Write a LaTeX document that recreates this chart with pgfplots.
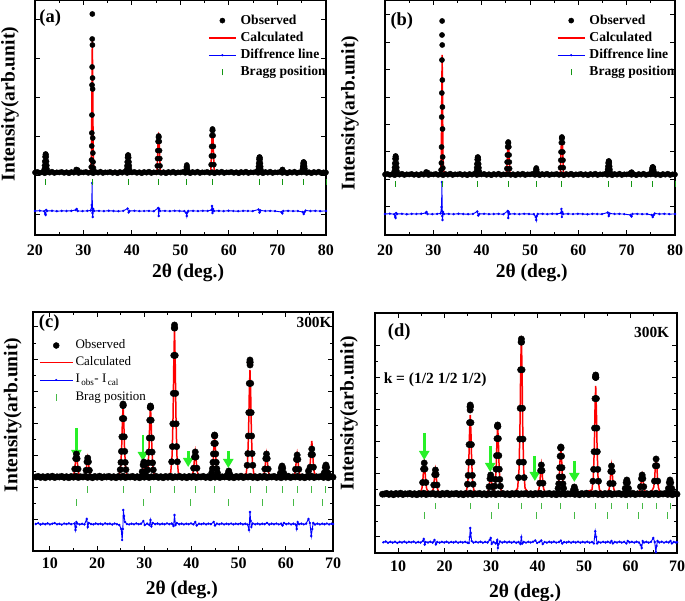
\documentclass[border=0pt]{standalone}
\usepackage{fontspec}
\setmainfont{Liberation Serif}
\usepackage{pgfplots}
\pgfplotsset{compat=1.18}
\usetikzlibrary{arrows.meta}
\definecolor{bragga}{RGB}{20,150,20}
\definecolor{braggc}{RGB}{70,185,70}
\definecolor{arrowg}{RGB}{40,240,40}
\tikzset{arr/.style={arrowg, line width=2.8pt, -{Triangle[width=10pt,length=9pt]}}}
\pgfplotsset{
  xrd/.style={
    scale only axis,
    axis line style={line width=1.2pt},
    tick style={black, line width=1pt},
    major tick length=5pt, minor tick length=3pt,
    tick align=inside,
    ymin=0,
    yticklabels={},
    minor x tick num=1,
    /pgf/number format/assume math mode=true,
    xticklabel style={font=\bfseries\fontsize{16}{16}\selectfont, anchor=center},
    label style={font=\bfseries\fontsize{19.5}{24}\selectfont},
    xlabel={2θ (deg.)},
    ylabel={Intensity(arb.unit)},
  },
  obs/.style={only marks, mark=*, mark size=2.6pt, black, forget plot},
  calc/.style={red, line width=1.5pt, no marks, forget plot},
  dif/.style={blue, line width=0.9pt, mark=*, mark size=0.7pt, forget plot},
  brg/.style={only marks, mark=|, mark size=3pt, mark options={line width=0.9pt}, forget plot},
  legA/.style={at={(#1,0.94)}, anchor=north west, draw=none, fill=none,
    inner sep=0pt, outer sep=0pt,
    font=\bfseries\fontsize{13.6}{14}\selectfont, row sep=4.3pt,
    nodes={inner sep=0pt, text height=10pt, text depth=3pt},
    /tikz/every odd column/.append style={column sep=4pt}},
}
\begin{document}
\begin{tikzpicture}
\useasboundingbox (0,0) rectangle (685pt,601pt);

% ---------------- (a)
\begin{axis}[xrd, at={(35pt,366pt)}, anchor=south west, width=291pt, height=235pt,
  xmin=20, xmax=80, ymax=235, xtick={20,30,...,80},
  ytick={20.5,59.5,98.5,137.5,176.5,215.5},
  xticklabel style={yshift=-15pt},
  xlabel style={at={(rel axis cs:0.526,-0.162)}, anchor=center},
  ylabel style={at={(rel axis cs:-0.086,0.557)}, anchor=center},
  legend style={legA=0.595}, legend cell align=left]
\addlegendimage{legend image code/.code={\path[draw=none,fill=none] (0pt,0pt) -- (27pt,0pt); \fill[black] (13.5pt,0pt) circle (2.6pt);}}
\addlegendentry{Observed}
\addlegendimage{legend image code/.code={\draw[red, line width=1.5pt] (0pt,0pt) -- (27pt,0pt);}}
\addlegendentry{Calculated}
\addlegendimage{legend image code/.code={\draw[blue, line width=0.8pt] (0pt,0pt) -- (27pt,0pt); \fill[blue] (13.5pt,0pt) circle (0.9pt);}}
\addlegendentry{Diffrence line}
\addlegendimage{legend image code/.code={\path[draw=none,fill=none] (0pt,0pt) -- (27pt,0pt); \draw[bragga, line width=0.9pt] (13.5pt,-3pt) -- (13.5pt,3pt);}}
\addlegendentry{Bragg position}
% observed
\addplot[obs] coordinates {
(20,62.5)(20.5,63.1)(21,62.1)(21.5,62.8)(22,61.8)(22.5,63.0)(23,62.3)(23.5,63.3)(24,62.0)(24.5,62.7)
(25,62.5)(25.5,63.1)(26,62.1)(26.5,62.8)(27,61.8)(27.5,63.0)(28,62.3)(28.5,63.3)(29,62.0)(29.5,62.7)
(30,62.5)(30.5,63.1)(31,62.1)(31.5,62.8)(32,61.8)(32.5,63.0)(33,62.3)(33.5,63.3)(34,62.0)(34.5,62.7)
(35,62.5)(35.5,63.1)(36,62.1)(36.5,62.8)(37,61.8)(37.5,63.0)(38,62.3)(38.5,63.3)(39,62.0)(39.5,62.7)
(40,62.5)(40.5,63.1)(41,62.1)(41.5,62.8)(42,61.8)(42.5,63.0)(43,62.3)(43.5,63.3)(44,62.0)(44.5,62.7)
(45,62.5)(45.5,63.1)(46,62.1)(46.5,62.8)(47,61.8)(47.5,63.0)(48,62.3)(48.5,63.3)(49,62.0)(49.5,62.7)
(50,62.5)(50.5,63.1)(51,62.1)(51.5,62.8)(52,61.8)(52.5,63.0)(53,62.3)(53.5,63.3)(54,62.0)(54.5,62.7)
(55,62.5)(55.5,63.1)(56,62.1)(56.5,62.8)(57,61.8)(57.5,63.0)(58,62.3)(58.5,63.3)(59,62.0)(59.5,62.7)
(60,62.5)(60.5,63.1)(61,62.1)(61.5,62.8)(62,61.8)(62.5,63.0)(63,62.3)(63.5,63.3)(64,62.0)(64.5,62.7)
(65,62.5)(65.5,63.1)(66,62.1)(66.5,62.8)(67,61.8)(67.5,63.0)(68,62.3)(68.5,63.3)(69,62.0)(69.5,62.7)
(70,62.5)(70.5,63.1)(71,62.1)(71.5,62.8)(72,61.8)(72.5,63.0)(73,62.3)(73.5,63.3)(74,62.0)(74.5,62.7)
(75,62.5)(75.5,63.1)(76,62.1)(76.5,62.8)(77,61.8)(77.5,63.0)(78,62.3)(78.5,63.3)(79,62.0)(79.5,62.7)(80,62.5)
(21.92,65.8)(21.97,69.5)(22.02,73.6)(22.08,78.2)(22.15,80.4)(22.2,81)(22.25,80.4)(22.32,78.2)(22.38,73.6)(22.43,69.5)(22.48,65.8)
(28.5,65.5)(28.8,65)
(31.6,68)(31.65,75)(31.7,89)(31.72,102)(31.74,120)(31.76,150)(31.78,168)(31.8,196)(31.82,221)(31.84,190)(31.86,157)(31.88,146)(31.9,97)(31.93,82)(31.97,73)(32.05,67)
(38.92,65.7)(38.97,69.2)(39.02,73)(39.08,77.4)(39.15,79.5)(39.2,80)(39.25,79.5)(39.32,77.4)(39.38,73)(39.43,69.2)(39.48,65.7)
(45.22,69.1)(45.27,76.4)(45.32,84.4)(45.38,93.5)(45.45,97.9)(45.5,99)(45.55,97.9)(45.62,93.5)(45.68,84.4)(45.73,76.4)(45.78,69.1)
(51.15,65)(51.22,68)(51.3,70)(51.38,68)(51.45,65)
(56.32,70.3)(56.37,79)(56.42,88.6)(56.48,99.5)(56.55,104.7)(56.6,106)(56.65,104.7)(56.72,99.5)(56.78,88.6)(56.83,79)(56.88,70.3)
(66.02,65.3)(66.07,68.4)(66.12,71.8)(66.18,75.7)(66.25,77.5)(66.3,78)(66.35,77.5)(66.42,75.7)(66.48,71.8)(66.53,68.4)(66.58,65.3)
(70.95,65)(71.05,65.5)
(75.12,64.4)(75.17,66.5)(75.22,68.8)(75.28,71.4)(75.35,72.7)(75.4,73)(75.45,72.7)(75.52,71.4)(75.58,68.8)(75.63,66.5)(75.68,64.4)
};
% calculated
\addplot[calc] coordinates {
(20,63.5)(21.85,63.5)(21.98,70.5)(22.08,78.4)(22.15,80.7)(22.2,81)(22.25,80.7)(22.32,78.4)(22.42,70.5)(22.55,63.5)
(28,63.5)(28.3,65)(28.6,65.5)(28.9,64.5)(29.2,63.5)
(31.3,63.5)(31.5,66)(31.65,80)(31.75,150)(31.82,196)(31.9,150)(32.0,80)(32.15,66)(32.4,64)
(38.85,63.5)(38.98,70.1)(39.08,77.5)(39.15,79.7)(39.2,80)(39.25,79.7)(39.32,77.5)(39.42,70.1)(39.55,63.5)
(45.15,63.5)(45.28,78.5)(45.38,95.4)(45.45,100.3)(45.5,101)(45.55,100.3)(45.62,95.4)(45.72,78.5)(45.85,63.5)
(50.95,63.5)(51.08,66.5)(51.18,69.9)(51.25,70.9)(51.3,71)(51.35,70.9)(51.42,69.9)(51.52,66.5)(51.65,63.5)
(56.25,63.5)(56.38,80.1)(56.48,98.8)(56.55,104.2)(56.6,105)(56.65,104.2)(56.72,98.8)(56.82,80.1)(56.95,63.5)
(65.95,63.5)(66.08,69.3)(66.18,75.8)(66.25,77.7)(66.3,78)(66.35,77.7)(66.42,75.8)(66.52,69.3)(66.65,63.5)
(70.7,63.5)(70.85,64.5)(71,66)(71.15,64.5)(71.3,63.5)
(75.05,63.5)(75.18,67.3)(75.28,71.6)(75.35,72.8)(75.4,73)(75.45,72.8)(75.52,71.6)(75.62,67.3)(75.75,63.5)(80,63.5)
};
% difference
\addplot[dif] coordinates {
(20,24)(21,24.3)(21.9,23.8)(22.1,21)(22.2,20)(22.3,25)(22.5,24)(23.5,24.2)(24.5,23.8)(25.5,24.1)(26.5,24)(27.5,24.2)(28.4,25)(28.6,26)(28.8,24)(29.8,23.9)(30.8,24.1)(31.5,24.5)(31.7,30)(31.78,52)(31.84,22)(31.9,18)(32.0,26)(32.2,24)(33.2,24.1)(34.2,23.9)(35.2,24.2)(36.2,24)(37.2,23.8)(38.2,24.1)(39.1,26.5)(39.3,22.5)(39.5,24)(40.5,24.2)(41.5,23.9)(42.5,24)(43.5,24.1)(44.5,23.8)(45.4,27)(45.5,19)(45.6,26)(45.8,24)(46.8,24.1)(47.8,23.9)(48.8,24.2)(49.8,24)(50.8,23.8)(51.2,22)(51.3,19)(51.4,22.5)(51.6,24)(52.6,24.1)(53.6,23.9)(54.6,24.2)(55.6,24)(56.4,25)(56.5,29)(56.6,22)(56.7,26)(56.9,24)(57.9,24.1)(58.9,23.9)(59.9,24.2)(60.9,24)(61.9,23.8)(62.9,24.1)(63.9,24)(64.9,23.9)(66.1,25.5)(66.3,22.5)(66.5,24.5)(67.5,24)(68.5,24.1)(69.5,23.9)(70.8,23)(71.0,21.5)(71.2,24)(72.2,24.1)(73.2,23.9)(74.2,24)(75.2,23)(75.4,21)(75.6,23)(75.8,24.5)(76.8,24)(77.8,24.1)(78.8,23.9)(80,24)
};
% Bragg positions
\addplot[brg, bragga] coordinates {(22.2,53)(31.8,53)(39.2,53)(45.5,53)(51.3,53)(56.6,53)(66.3,53)(71.0,53)(75.4,53)(80,53)};
\node[font=\bfseries\fontsize{18.5}{20}\selectfont] at (rel axis cs:0.052,0.923) {(a)};
\end{axis}

% ---------------- (b)
\begin{axis}[xrd, at={(385pt,366pt)}, anchor=south west, width=290pt, height=235pt,
  xmin=20, xmax=80, ymax=235, xtick={20,30,...,80},
  ytick={28.3,55.7,83.1,110.5,137.9,165.3,192.7,220.1},
  xticklabel style={yshift=-15pt},
  xlabel style={at={(rel axis cs:0.506,-0.163)}, anchor=center},
  ylabel style={at={(rel axis cs:-0.121,0.519)}, anchor=center},
  legend style={legA=0.593}, legend cell align=left]
\addlegendimage{legend image code/.code={\path[draw=none,fill=none] (0pt,0pt) -- (27pt,0pt); \fill[black] (13.5pt,0pt) circle (2.6pt);}}
\addlegendentry{Observed}
\addlegendimage{legend image code/.code={\draw[red, line width=1.5pt] (0pt,0pt) -- (27pt,0pt);}}
\addlegendentry{Calculated}
\addlegendimage{legend image code/.code={\draw[blue, line width=0.8pt] (0pt,0pt) -- (27pt,0pt); \fill[blue] (13.5pt,0pt) circle (0.9pt);}}
\addlegendentry{Diffrence line}
\addlegendimage{legend image code/.code={\path[draw=none,fill=none] (0pt,0pt) -- (27pt,0pt); \draw[bragga, line width=0.9pt] (13.5pt,-3pt) -- (13.5pt,3pt);}}
\addlegendentry{Bragg position}
\addplot[obs] coordinates {
(20,60.5)(20.5,61.1)(21,60.1)(21.5,60.8)(22,59.8)(22.5,61.0)(23,60.3)(23.5,61.3)(24,60.0)(24.5,60.7)
(25,60.5)(25.5,61.1)(26,60.1)(26.5,60.8)(27,59.8)(27.5,61.0)(28,60.3)(28.5,61.3)(29,60.0)(29.5,60.7)
(30,60.5)(30.5,61.1)(31,60.1)(31.5,60.8)(32,59.8)(32.5,61.0)(33,60.3)(33.5,61.3)(34,60.0)(34.5,60.7)
(35,60.5)(35.5,61.1)(36,60.1)(36.5,60.8)(37,59.8)(37.5,61.0)(38,60.3)(38.5,61.3)(39,60.0)(39.5,60.7)
(40,60.5)(40.5,61.1)(41,60.1)(41.5,60.8)(42,59.8)(42.5,61.0)(43,60.3)(43.5,61.3)(44,60.0)(44.5,60.7)
(45,60.5)(45.5,61.1)(46,60.1)(46.5,60.8)(47,59.8)(47.5,61.0)(48,60.3)(48.5,61.3)(49,60.0)(49.5,60.7)
(50,60.5)(50.5,61.1)(51,60.1)(51.5,60.8)(52,59.8)(52.5,61.0)(53,60.3)(53.5,61.3)(54,60.0)(54.5,60.7)
(55,60.5)(55.5,61.1)(56,60.1)(56.5,60.8)(57,59.8)(57.5,61.0)(58,60.3)(58.5,61.3)(59,60.0)(59.5,60.7)
(60,60.5)(60.5,61.1)(61,60.1)(61.5,60.8)(62,59.8)(62.5,61.0)(63,60.3)(63.5,61.3)(64,60.0)(64.5,60.7)
(65,60.5)(65.5,61.1)(66,60.1)(66.5,60.8)(67,59.8)(67.5,61.0)(68,60.3)(68.5,61.3)(69,60.0)(69.5,60.7)
(70,60.5)(70.5,61.1)(71,60.1)(71.5,60.8)(72,59.8)(72.5,61.0)(73,60.3)(73.5,61.3)(74,60.0)(74.5,60.7)
(75,60.5)(75.5,61.1)(76,60.1)(76.5,60.8)(77,59.8)(77.5,61.0)(78,60.3)(78.5,61.3)(79,60.0)(79.5,60.7)(80,60.5)
(21.92,63.8)(21.97,67.5)(22.02,71.6)(22.08,76.2)(22.15,78.4)(22.2,79)(22.25,78.4)(22.32,76.2)(22.38,71.6)(22.43,67.5)(22.48,63.8)
(28.5,63)(28.8,62.5)
(31.6,65)(31.66,72)(31.7,88)(31.73,118)(31.76,142)(31.78,175)(31.8,200)(31.82,214)(31.84,190)(31.86,155)(31.88,128)(31.9,106)(31.93,78)(31.97,67)
(38.92,63.7)(38.97,67.2)(39.02,71)(39.08,75.4)(39.15,77.5)(39.2,78)(39.25,77.5)(39.32,75.4)(39.38,71)(39.43,67.2)(39.48,63.7)
(45.22,66.4)(45.27,72.9)(45.32,80)(45.38,88.1)(45.45,92)(45.5,93)(45.55,92)(45.62,88.1)(45.68,80)(45.73,72.9)(45.78,66.4)
(51.15,63)(51.22,65.5)(51.3,67)(51.38,65.5)(51.45,63)
(56.32,67.3)(56.37,74.8)(56.42,83)(56.48,92.4)(56.55,96.9)(56.6,98)(56.65,96.9)(56.72,92.4)(56.78,83)(56.83,74.8)(56.88,67.3)
(66.02,62.9)(66.07,65.6)(66.12,68.6)(66.18,72)(66.25,73.6)(66.3,74)(66.35,73.6)(66.42,72)(66.48,68.6)(66.53,65.6)(66.58,62.9)
(70.95,62.5)(71.05,62.8)
(75.12,61.9)(75.17,63.4)(75.22,65)(75.28,66.9)(75.35,67.8)(75.4,68)(75.45,67.8)(75.52,66.9)(75.58,65)(75.63,63.4)(75.68,61.9)
};
\addplot[calc] coordinates {
(20,61)(21.85,61)(21.98,67.8)(22.08,75.5)(22.15,77.7)(22.2,78)(22.25,77.7)(22.32,75.5)(22.42,67.8)(22.55,61)
(28,61)(28.3,62.5)(28.6,63)(28.9,62)(29.2,61)
(31.3,61)(31.5,64)(31.65,78)(31.75,140)(31.82,180)(31.9,140)(32.0,78)(32.15,64)(32.4,61.5)
(38.85,61)(38.98,67.8)(39.08,75.5)(39.15,77.7)(39.2,78)(39.25,77.7)(39.32,75.5)(39.42,67.8)(39.55,61)
(45.15,61)(45.28,73.4)(45.38,87.4)(45.45,91.4)(45.5,92)(45.55,91.4)(45.62,87.4)(45.72,73.4)(45.85,61)
(50.95,61)(51.08,63.4)(51.18,66.1)(51.25,66.9)(51.3,67)(51.35,66.9)(51.42,66.1)(51.52,63.4)(51.65,61)
(56.25,61)(56.38,75.4)(56.48,91.6)(56.55,96.3)(56.6,97)(56.65,96.3)(56.72,91.6)(56.82,75.4)(56.95,61)
(65.95,61)(66.08,66.2)(66.18,72.1)(66.25,73.7)(66.3,74)(66.35,73.7)(66.42,72.1)(66.52,66.2)(66.65,61)
(70.7,61)(70.85,62)(71,63)(71.15,62)(71.3,61)
(75.05,61)(75.18,63.8)(75.28,67)(75.35,67.9)(75.4,68)(75.45,67.9)(75.52,67)(75.62,63.8)(75.75,61)(80,61)
};
\addplot[dif] coordinates {
(20,21)(21,21.3)(21.9,20.8)(22.1,18)(22.2,17)(22.3,22)(22.5,21)(23.5,21.2)(24.5,20.8)(25.5,21.1)(26.5,21)(27.5,21.2)(28.4,22)(28.6,23)(28.8,21)(29.8,20.9)(30.8,21.1)(31.5,21.5)(31.7,28)(31.78,53)(31.84,19)(31.9,15)(32.0,23)(32.2,21)(33.2,21.1)(34.2,20.9)(35.2,21.2)(36.2,21)(37.2,20.8)(38.2,21.1)(39.1,23.5)(39.3,19.5)(39.5,21)(40.5,21.2)(41.5,20.9)(42.5,21)(43.5,21.1)(44.5,20.8)(45.4,24)(45.5,17)(45.6,23)(45.8,21)(46.8,21.1)(47.8,20.9)(48.8,21.2)(49.8,21)(50.8,20.8)(51.2,18)(51.3,15)(51.4,19)(51.6,21)(52.6,21.1)(53.6,20.9)(54.6,21.2)(55.6,21)(56.4,22)(56.5,26)(56.6,18)(56.7,23)(56.9,21)(57.9,21.1)(58.9,20.9)(59.9,21.2)(60.9,21)(61.9,20.8)(62.9,21.1)(63.9,21)(64.9,20.9)(66.1,22.5)(66.3,19)(66.5,21.5)(67.5,21)(68.5,21.1)(69.5,20.9)(70.8,20)(71.0,18.5)(71.2,21)(72.2,21.1)(73.2,20.9)(74.2,21)(75.2,20)(75.4,18)(75.6,20)(75.8,21.5)(76.8,21)(77.8,21.1)(78.8,20.9)(80,21)
};
\addplot[brg, bragga] coordinates {(22.2,50.5)(31.8,50.5)(39.2,50.5)(45.5,50.5)(51.3,50.5)(56.6,50.5)(66.3,50.5)(71.0,50.5)(75.4,50.5)(80,50.5)};
\node[font=\bfseries\fontsize{18.5}{20}\selectfont] at (rel axis cs:0.058,0.912) {(b)};
\end{axis}

% ---------------- (c)
\begin{axis}[xrd, at={(33pt,50pt)}, anchor=south west, width=300pt, height=239pt,
  xmin=6.4, xmax=70, ymax=239, xtick={10,20,...,70},
  ytick={31.7,63.75,95.8,127.85,159.9,191.95,224}, minor y tick num=1,
  xticklabel style={yshift=-12.3pt},
  xlabel style={at={(rel axis cs:0.496,-0.163)}, anchor=center},
  ylabel style={at={(rel axis cs:-0.068,0.569)}, anchor=center},
  legend style={at={(0.02,0.887)}, anchor=north west, draw=none, fill=none,
    inner sep=0pt, outer sep=0pt,
    font=\fontsize{13}{14}\selectfont, row sep=4.2pt,
    nodes={inner sep=0pt, text height=9.5pt, text depth=3.5pt},
    /tikz/every odd column/.append style={column sep=2pt}},
  legend cell align=left]
\addlegendimage{legend image code/.code={\path[draw=none,fill=none] (0pt,0pt) -- (33pt,0pt); \fill[black] (16.5pt,0pt) circle (3pt);}}
\addlegendentry{Observed}
\addlegendimage{legend image code/.code={\draw[red, line width=1.5pt] (0pt,0pt) -- (33pt,0pt);}}
\addlegendentry{Calculated}
\addlegendimage{legend image code/.code={\draw[blue, line width=0.7pt] (0pt,0pt) -- (33pt,0pt); \fill[blue] (16.5pt,0pt) circle (0.8pt);}}
\addlegendentry{I\textsubscript{\,obs}- I\textsubscript{\,cal}}
\addlegendimage{legend image code/.code={\path[draw=none,fill=none] (0pt,0pt) -- (33pt,0pt); \draw[braggc, line width=0.9pt] (16.5pt,-3.5pt) -- (16.5pt,3.5pt);}}
\addlegendentry{Brag position}
\addplot[obs, mark size=3.2pt] coordinates {
(7,74)(7.5,74.6)(8,73.6)(8.5,74.3)(9,73.3)(9.5,74.5)(10,73.8)(10.5,74.8)(11,73.5)(11.5,74.2)
(12,74)(12.5,74.6)(13,73.6)(13.5,74.3)(14,73.3)(14.5,74.5)(15,73.8)(15.5,74.8)(16,73.5)(16.5,74.2)
(17,74)(17.5,74.6)(18,73.6)(18.5,74.3)(19,73.3)(19.5,74.5)(20,73.8)(20.5,74.8)(21,73.5)(21.5,74.2)
(22,74)(22.5,74.6)(23,73.6)(23.5,74.3)(24,73.3)(24.5,74.5)(25,73.8)(25.5,74.8)(26,73.5)(26.5,74.2)
(27,74)(27.5,74.6)(28,73.6)(28.5,74.3)(29,73.3)(29.5,74.5)(30,73.8)(30.5,74.8)(31,73.5)(31.5,74.2)
(32,74)(32.5,74.6)(33,73.6)(33.5,74.3)(34,73.3)(34.5,74.5)(35,73.8)(35.5,74.8)(36,73.5)(36.5,74.2)
(37,74)(37.5,74.6)(38,73.6)(38.5,74.3)(39,73.3)(39.5,74.5)(40,73.8)(40.5,74.8)(41,73.5)(41.5,74.2)
(42,74)(42.5,74.6)(43,73.6)(43.5,74.3)(44,73.3)(44.5,74.5)(45,73.8)(45.5,74.8)(46,73.5)(46.5,74.2)
(47,74)(47.5,74.6)(48,73.6)(48.5,74.3)(49,73.3)(49.5,74.5)(50,73.8)(50.5,74.8)(51,73.5)(51.5,74.2)
(52,74)(52.5,74.6)(53,73.6)(53.5,74.3)(54,73.3)(54.5,74.5)(55,73.8)(55.5,74.8)(56,73.5)(56.5,74.2)
(57,74)(57.5,74.6)(58,73.6)(58.5,74.3)(59,73.3)(59.5,74.5)(60,73.8)(60.5,74.8)(61,73.5)(61.5,74.2)
(62,74)(62.5,74.6)(63,73.6)(63.5,74.3)(64,73.3)(64.5,74.5)(65,73.8)(65.5,74.8)(66,73.5)(66.5,74.2)
(67,74)(67.5,74.6)(68,73.6)(68.5,74.3)(69,73.3)(69.5,74.5)(70,73.8)
(15.25,82)(15.45,92.4)(15.6,97)(15.75,92.4)(15.95,82)
(17.65,80.7)(17.85,89.2)(18,93)(18.15,89.2)(18.35,80.7)
(24.9,81.3)(25.05,88.6)(25.15,99.6)(25.25,114.2)(25.35,132.4)(25.45,145.5)(25.5,147)(25.55,145.5)(25.65,132.4)(25.75,114.2)(25.85,99.6)(25.95,88.6)(26.1,81.3)
(29.55,79.3)(29.75,86)(29.9,89)(30.05,86)(30.25,79.3)
(30.7,81.1)(30.85,88.2)(30.95,98.9)(31.05,113)(31.15,130.8)(31.25,143.6)(31.3,145)(31.35,143.6)(31.45,130.8)(31.55,113)(31.65,98.9)(31.75,88.2)(31.9,81.1)
(35.8,89.2)(35.95,104.4)(36.05,127.2)(36.15,157.6)(36.25,195.6)(36.35,223)(36.4,226)(36.45,223)(36.55,195.6)(36.65,157.6)(36.75,127.2)(36.85,104.4)(37.0,89.2)
(40.45,82.8)(40.65,94)(40.8,99)(40.95,94)(41.15,82.8)
(44.3,78.2)(44.45,82.4)(44.55,88.7)(44.65,97.1)(44.75,107.6)(44.85,115.2)(44.9,116)(44.95,115.2)(45.05,107.6)(45.15,97.1)(45.25,88.7)(45.35,82.4)(45.5,78.2)
(47.7,77)(47.9,80)(48.1,77)
(51.8,85.7)(51.95,97.4)(52.05,115)(52.15,138.4)(52.25,167.6)(52.35,188.7)(52.4,191)(52.42,186)(52.45,188.7)(52.55,167.6)(52.65,138.4)(52.75,115)(52.85,97.4)(53.0,85.7)
(55.55,82)(55.75,92.4)(55.9,97)(56.05,92.4)(56.25,82)
(58.85,77.9)(59.05,82.8)(59.2,85)(59.35,82.8)(59.55,77.9)
(62.05,81.7)(62.25,91.6)(62.4,96)(62.55,91.6)(62.75,81.7)
(64.8,80)(65.15,83.8)(65.35,96.4)(65.5,102)(65.65,96.4)(65.85,83.8)
(68.15,78.2)(68.35,83.6)(68.5,86)(68.65,83.6)(68.85,78.2)
};
\addplot[calc] coordinates {
(7,73.5)(10,73.8)(14,74)(14.8,74.7)(15.1,77.5)(15.3,83.7)(15.45,91.9)(15.6,97)(15.75,91.9)(15.9,83.7)(16.1,77.5)(16.4,74.7)
(17.2,74.6)(17.5,76.9)(17.7,82)(17.85,88.8)(18,93)(18.15,88.8)(18.3,82)(18.5,76.9)(18.8,74.6)(20,74.5)(24,74.5)
(24.7,76.1)(25.0,84.7)(25.2,103.8)(25.35,129.4)(25.5,145)(25.65,129.4)(25.8,103.8)(26.0,84.7)(26.3,76.1)(27,74.2)
(29.1,74.4)(29.4,76)(29.6,79.5)(29.75,84.1)(29.9,87)(30.05,84.1)(30.2,79.5)(30.4,76.5)(30.5,77)(30.8,84.7)(31.0,103.8)(31.15,129.4)(31.3,145)(31.45,129.4)(31.6,103.8)(31.8,84.7)(32.1,76.1)(33,74.2)
(35,74.2)(35.6,78.4)(35.9,96.2)(36.1,136.2)(36.25,189.4)(36.4,222)(36.55,189.4)(36.7,136.2)(36.9,96.2)(37.2,78.4)(38,74.5)(39.3,75)
(40.0,75.8)(40.3,77.8)(40.5,84.5)(40.65,93.5)(40.8,99)(40.95,93.5)(41.1,84.5)(41.3,77.8)(41.6,74.8)(43,74.3)
(44.1,75.2)(44.4,80)(44.6,90.8)(44.75,105.2)(44.9,114)(45.05,105.2)(45.2,90.8)(45.4,80)(45.7,75.2)(46.5,74.3)
(47.4,74.3)(47.7,76.5)(47.9,78)(48.1,76.5)(48.4,74.3)(50,74.2)
(51.6,77.2)(51.9,90)(52.1,118.9)(52.25,157.5)(52.4,181)(52.55,157.5)(52.7,118.9)(52.9,90)(53.2,77.2)(54,74.3)
(55.1,74.7)(55.4,77.5)(55.6,83.7)(55.75,91.9)(55.9,97)(56.05,91.9)(56.2,83.7)(56.4,77.5)(56.7,74.7)
(58.4,74.3)(58.7,75.7)(58.9,78.6)(59.05,82.6)(59.2,85)(59.35,82.6)(59.5,78.6)(59.7,75.7)(60.0,74.3)
(61.6,74.7)(61.9,77.5)(62.1,83.7)(62.25,91.9)(62.4,97)(62.55,91.9)(62.7,83.7)(62.9,77.5)(63.2,74.7)
(64.2,75)(64.7,77)(65.0,80.5)(65.2,89.1)(65.35,102.1)(65.5,110)(65.65,102.1)(65.8,89.1)(66.0,79.4)(66.3,75.1)
(67.7,74.4)(68.0,75.8)(68.2,79)(68.35,83.4)(68.5,86)(68.65,83.4)(68.8,79)(69.0,75.8)(69.3,74.4)(70,74.2)
};
\addplot[dif] coordinates {
(7,27)(7.5,27.8)(8,26.5)(8.5,27.4)(9,26.8)(9.5,27.6)(10,26.6)(10.5,27.3)(11,27.9)(11.5,26.7)(12,27.2)(12.5,26.4)(13,27.5)(13.5,26.9)(14,27.6)(14.5,26.8)(15.2,27.5)(15.4,21)(15.5,24)(15.6,29)(15.8,27.5)(16.3,26.6)(16.8,27.2)(17.3,26.5)(17.8,32)(18,24)(18.2,28)(18.7,27)(19.2,26.6)(19.7,27.5)(20.2,26.8)(20.7,27.3)(21.2,26.5)(21.7,27.6)(22.2,26.9)(22.7,27.3)(23.2,26.5)(23.7,27.5)(24.2,26.8)(24.7,26)(25.1,22)(25.3,11)(25.45,22)(25.55,41)(25.7,35)(25.9,29)(26.3,27)(26.8,26.6)(27.3,27.3)(27.8,26.7)(28.3,27.6)(28.8,26.8)(29.3,27.2)(29.8,30)(30.1,26)(30.6,27.4)(31.1,26)(31.3,31)(31.5,24.5)(31.8,28)(32.3,26.8)(32.8,27.5)(33.3,26.6)(33.8,27.3)(34.3,26.7)(34.8,27.6)(35.3,26.8)(35.8,27.5)(36.2,25)(36.4,36)(36.6,26)(36.9,28)(37.4,26.8)(37.9,27.4)(38.4,26.6)(38.9,27.3)(39.4,26.8)(39.9,27.6)(40.4,26.7)(40.8,29)(41.1,25.5)(41.6,27.3)(42.1,26.8)(42.6,27.5)(43.1,26.6)(43.6,27.4)(44.1,26.9)(44.7,29)(45.0,25.5)(45.4,27.4)(45.9,26.7)(46.4,27.5)(46.9,26.6)(47.4,27.3)(47.9,26.8)(48.4,27.5)(48.9,26.6)(49.4,27.3)(49.9,26.8)(50.4,27.5)(50.9,26.6)(51.4,27.3)(51.9,26.5)(52.2,21)(52.4,39)(52.55,30)(52.7,24)(53.0,27.5)(53.5,26.7)(54.0,27.4)(54.5,26.6)(55.0,27.3)(55.5,26.8)(56.0,28)(56.5,26.5)(57.0,27.4)(57.5,26.7)(58.0,27.5)(58.5,26.6)(59.0,27.3)(59.3,25.5)(59.6,28)(60.1,26.8)(60.6,27.5)(61.1,26.6)(61.6,27.3)(62.1,26.5)(62.3,22)(62.5,29)(62.8,26.8)(63.3,27.4)(63.8,26.6)(64.3,27.3)(64.8,32)(65.1,28)(65.4,15)(65.6,22)(65.8,28)(66.2,26.5)(66.7,27.4)(67.2,26.6)(67.7,27.3)(68.2,26.8)(68.7,27.5)(69.2,26.6)(69.7,27.3)(70,27)
};
\addplot[brg, braggc, mark size=3.5pt] coordinates {(18,61.3)(25.5,61.3)(31.3,61.3)(36.4,61.3)(40.8,61.3)(44.9,61.3)(52.4,61.3)(55.9,61.3)(59.2,61.3)(62.4,61.3)(65.5,61.3)(68.5,61.3)};
\addplot[brg, braggc, mark size=3.5pt] coordinates {(15.6,48.3)(29.9,48.3)(39.7,48.3)(47.9,48.3)(55.1,48.3)(61.6,48.3)(67.8,48.3)};
\draw[arr] (axis cs:15.6,123) -- (axis cs:15.6,92);
\draw[arr] (axis cs:29.7,116) -- (axis cs:29.7,90);
\draw[arr] (axis cs:39.3,100) -- (axis cs:39.3,84);
\draw[arr] (axis cs:47.8,100) -- (axis cs:47.8,83);
\node[font=\bfseries\fontsize{18.5}{20}\selectfont] at (rel axis cs:0.054,0.953) {(c)};
\node[font=\bfseries\fontsize{15.4}{17}\selectfont] at (rel axis cs:0.937,0.955) {300K};
\end{axis}

% ---------------- (d)
\begin{axis}[xrd, at={(375pt,48pt)}, anchor=south west, width=302pt, height=240pt,
  xmin=5, xmax=70, ymax=240, xtick={10,20,...,70},
  ytick={16,47.9,79.8,111.7,143.6,175.5,207.4}, minor y tick num=1,
  xticklabel style={yshift=-13.7pt},
  xlabel style={at={(rel axis cs:0.497,-0.168)}, anchor=center},
  ylabel style={at={(rel axis cs:-0.086,0.583)}, anchor=center}]
\addplot[obs, mark size=3.2pt] coordinates {
(6.6,58.8)
(7,59)(7.5,59.6)(8,58.6)(8.5,59.3)(9,58.3)(9.5,59.5)(10,58.8)(10.5,59.8)(11,58.5)(11.5,59.2)
(12,59)(12.5,59.6)(13,58.6)(13.5,59.3)(14,58.3)(14.5,59.5)(15,58.8)(15.5,59.8)(16,58.5)(16.5,59.2)
(17,59)(17.5,59.6)(18,58.6)(18.5,59.3)(19,58.3)(19.5,59.5)(20,58.8)(20.5,59.8)(21,58.5)(21.5,59.2)
(22,59)(22.5,59.6)(23,58.6)(23.5,59.3)(24,58.3)(24.5,59.5)(25,58.8)(25.5,59.8)(26,58.5)(26.5,59.2)
(27,59)(27.5,59.6)(28,58.6)(28.5,59.3)(29,58.3)(29.5,59.5)(30,58.8)(30.5,59.8)(31,58.5)(31.5,59.2)
(32,59)(32.5,59.6)(33,58.6)(33.5,59.3)(34,58.3)(34.5,59.5)(35,58.8)(35.5,59.8)(36,58.5)(36.5,59.2)
(37,59)(37.5,59.6)(38,58.6)(38.5,59.3)(39,58.3)(39.5,59.5)(40,58.8)(40.5,59.8)(41,58.5)(41.5,59.2)
(42,59)(42.5,59.6)(43,58.6)(43.5,59.3)(44,58.3)(44.5,59.5)(45,58.8)(45.5,59.8)(46,58.5)(46.5,59.2)
(47,59)(47.5,59.6)(48,58.6)(48.5,59.3)(49,58.3)(49.5,59.5)(50,58.8)(50.5,59.8)(51,58.5)(51.5,59.2)
(52,59)(52.5,59.6)(53,58.6)(53.5,59.3)(54,58.3)(54.5,59.5)(55,58.8)(55.5,59.8)(56,58.5)(56.5,59.2)
(57,59)(57.5,59.6)(58,58.6)(58.5,59.3)(59,58.3)(59.5,59.5)(60,58.8)(60.5,59.8)(61,58.5)(61.5,59.2)
(62,59)(62.5,59.6)(63,58.6)(63.5,59.3)(64,58.3)(64.5,59.5)(65,58.8)(65.5,59.8)(66,58.5)(66.5,59.2)
(67,59)(67.5,59.6)(68,58.6)(68.5,59.3)(69,58.3)(69.5,59.5)(70,58.8)
(15.25,70.5)(15.45,84)(15.6,90)(15.75,84)(15.95,70.5)
(17.65,68)(17.85,78.4)(18,83)(18.15,78.4)(18.35,68)
(24.9,68.8)(25.05,77.6)(25.15,90.8)(25.25,108.4)(25.35,130.4)(25.45,146.2)(25.48,143)(25.5,148)(25.55,146.2)(25.65,130.4)(25.75,108.4)(25.85,90.8)(25.95,77.6)(26.1,68.8)
(29.55,66.3)(29.75,74.4)(29.9,78)(30.05,74.4)(30.25,66.3)
(30.8,66.8)(30.95,73.6)(31.05,83.8)(31.15,97.4)(31.25,114.4)(31.35,126.6)(31.4,128)(31.45,126.6)(31.55,114.4)(31.65,97.4)(31.75,83.8)(31.85,73.6)(32.0,66.8)
(35.9,75.4)(36.05,90.8)(36.15,113.9)(36.25,144.7)(36.35,183.2)(36.45,210.9)(36.5,214)(36.55,210.9)(36.65,183.2)(36.75,144.7)(36.85,113.9)(36.95,90.8)(37.1,75.4)
(40.45,69.8)(40.65,82.4)(40.8,88)(40.95,82.4)(41.15,69.8)
(44.4,64.6)(44.55,69.2)(44.65,76.1)(44.75,85.3)(44.85,96.8)(44.95,105.1)(45,106)(45.05,105.1)(45.15,96.8)(45.25,85.3)(45.35,76.1)(45.45,69.2)(45.6,64.6)
(47.7,63)(47.9,66)(48.1,63)
(51.9,71.8)(52.05,83.6)(52.15,101.3)(52.25,124.9)(52.35,154.4)(52.45,175.6)(52.48,176)(52.5,178)(52.55,175.6)(52.65,154.4)(52.75,124.9)(52.85,101.3)(52.95,83.6)(53.1,71.8)
(55.55,69.5)(55.75,81.6)(55.9,87)(56.05,81.6)(56.25,69.5)
(58.85,64.6)(59.05,70.4)(59.2,73)(59.35,70.4)(59.55,64.6)
(62.15,66.3)(62.35,74.4)(62.5,78)(62.65,74.4)(62.85,66.3)
(65.15,71.9)(65.35,87.2)(65.5,94)(65.65,87.2)(65.85,71.9)
(68.15,64.6)(68.35,70.4)(68.5,73)(68.65,70.4)(68.85,64.6)
};
\addplot[calc] coordinates {
(6.6,59)(9,59)(11,59.5)(12,60.3)(14,60.5)(14.8,60.9)(15.1,64.5)(15.3,72.6)(15.45,83.4)(15.6,90)(15.75,83.4)(15.9,72.6)(16.1,64.5)(16.4,60.9)
(17.2,60.7)(17.5,63.5)(17.7,69.7)(17.85,77.9)(18,83)(18.15,77.9)(18.3,69.7)(18.5,63.5)(18.8,60.7)(20,60.5)(24,60.5)
(24.7,62.3)(25,71.7)(25.2,92.8)(25.35,120.8)(25.5,138)(25.65,120.8)(25.8,92.8)(26,71.7)(26.3,62.3)(27,60.2)
(29.1,60.5)(29.4,62.6)(29.6,67.1)(29.75,73.3)(29.9,77)(30.05,73.3)(30.2,67.1)(30.4,63)(30.6,62)(30.9,70)(31.1,88.1)(31.25,112.3)(31.4,127)(31.55,112.3)(31.7,88.1)(31.9,70)(32.2,62)(33,60.2)
(35,60.3)(35.7,64.7)(36,83.6)(36.2,125.9)(36.35,182.5)(36.5,217)(36.65,182.5)(36.8,125.9)(37,83.6)(37.3,64.7)(38,60.5)(39.4,61)
(40.0,60.8)(40.3,64.2)(40.5,71.8)(40.65,81.8)(40.8,88)(40.95,81.8)(41.1,71.8)(41.3,64.2)(41.6,60.8)(43,60.3)
(44.2,61.4)(44.5,66.9)(44.7,79.3)(44.85,95.9)(45,106)(45.15,95.9)(45.3,79.3)(45.5,66.9)(45.8,61.4)(46.5,60.3)
(47.4,60.3)(47.7,64)(47.9,67)(48.1,64)(48.4,60.3)(50,60.2)
(51.7,63.2)(52,76)(52.2,104.9)(52.35,143.5)(52.5,167)(52.65,143.5)(52.8,104.9)(53,76)(53.3,63.2)(54,60.3)
(55.1,60.8)(55.4,64)(55.6,71.3)(55.75,81.1)(55.9,87)(56.05,81.1)(56.2,71.3)(56.4,64)(56.7,60.8)
(58.4,60.4)(58.7,62)(58.9,65.5)(59.05,70.1)(59.2,73)(59.35,70.1)(59.5,65.5)(59.7,62)(60,60.4)
(61.7,60.5)(62,62.7)(62.2,67.6)(62.35,74)(62.5,78)(62.65,74)(62.8,67.6)(63,62.7)(63.3,60.5)
(64.2,61)(64.7,63)(65,66)(65.2,75.1)(65.35,88.1)(65.5,96)(65.65,88.1)(65.8,75.1)(66,65.4)(66.3,61.1)
(67.7,60.4)(68,62)(68.2,65.5)(68.35,70.1)(68.5,73)(68.65,70.1)(68.8,65.5)(69,62)(69.3,60.4)(70,60.2)
};
\addplot[dif] coordinates {
(6.8,10.7)(7.3,11.5)(7.8,10.2)(8.3,11.2)(8.8,10.4)(9.3,11.3)(9.8,10.1)(10.3,11.1)(10.8,10.5)(11.3,11.4)(11.8,10.3)(12.3,11.2)(12.8,10.6)(13.3,11.4)(13.8,10.3)(14.3,11)(14.8,10.4)(15.3,12)(15.5,14)(15.7,8.5)(15.9,11)(16.4,10.5)(16.9,11.3)(17.4,10.3)(17.8,13)(18.1,8.5)(18.4,11)(18.9,10.4)(19.4,11.2)(19.9,10.5)(20.4,11.3)(20.9,10.3)(21.4,11.1)(21.9,10.5)(22.4,11.4)(22.9,10.3)(23.4,11.1)(23.9,10.5)(24.4,11.2)(24.9,10.3)(25.2,10)(25.4,16)(25.5,25)(25.6,20)(25.8,12)(26.2,10.4)(26.7,11.2)(27.2,10.5)(27.7,11.3)(28.2,10.3)(28.7,11.1)(29.2,10.5)(29.7,13)(29.9,15)(30.1,9)(30.5,11)(31.0,9.5)(31.3,13)(31.45,5)(31.6,9)(31.9,11.5)(32.4,10.4)(32.9,11.3)(33.4,10.5)(33.9,11.2)(34.4,10.4)(34.9,11.3)(35.4,10.3)(35.9,11)(36.3,9)(36.5,16)(36.7,9.5)(37.0,11)(37.5,10.4)(38,11.2)(38.5,10.5)(39,11.3)(39.5,12.5)(39.9,10)(40.4,11.1)(40.8,12.5)(41.1,9)(41.5,11)(42,10.4)(42.5,11.2)(43,10.5)(43.5,11.3)(44,10.4)(44.6,11)(45,12.5)(45.3,9.5)(45.7,11)(46.2,10.5)(46.7,11.3)(47.2,10.4)(47.7,11.2)(48.2,10.5)(48.7,11.3)(49.2,10.4)(49.7,11.1)(50.2,10.5)(50.7,11.3)(51.2,10.4)(51.7,11)(52.1,9.5)(52.4,21.7)(52.6,16)(52.8,9.5)(53.1,11)(53.6,10.4)(54.1,11.2)(54.6,10.5)(55.1,11.3)(55.6,10.4)(55.9,12)(56.2,9.5)(56.6,11)(57.1,10.5)(57.6,11.3)(58.1,10.4)(58.6,11.2)(59.1,9.5)(59.4,12)(59.8,10.6)(60.3,11.2)(60.8,10.4)(61.3,11.3)(61.8,10.5)(62.2,8)(62.4,5)(62.6,12)(62.9,10.5)(63.4,11.2)(63.9,10.4)(64.4,11.1)(64.9,15)(65.2,11)(65.45,0.8)(65.6,7)(65.8,12)(66.2,10.5)(66.7,11.3)(67.2,10.4)(67.7,11.2)(68.2,10.5)(68.6,12)(68.9,9.5)(69.3,11)(69.8,10.5)(70,10.8)
};
\addplot[brg, braggc, mark size=3.2pt] coordinates {(18,47)(25.6,47)(31.5,47)(36.5,47)(40.9,47)(45.0,47)(52.5,47)(55.9,47)(59.3,47)(62.5,47)(65.6,47)(68.6,47)};
\addplot[brg, braggc, mark size=3.2pt] coordinates {(15.6,37.3)(30.0,37.3)(39.8,37.3)(47.9,37.3)(55.1,37.3)(61.7,37.3)(67.9,37.3)};
\draw[arr] (axis cs:15.6,120) -- (axis cs:15.6,93);
\draw[arr] (axis cs:29.8,107) -- (axis cs:29.8,81);
\draw[arr] (axis cs:39.4,97) -- (axis cs:39.4,72);
\draw[arr] (axis cs:47.9,92) -- (axis cs:47.9,71);
\node[font=\bfseries\fontsize{18.5}{20}\selectfont] at (rel axis cs:0.080,0.922) {(d)};
\node[font=\bfseries\fontsize{15.4}{17}\selectfont] at (rel axis cs:0.916,0.920) {300K};
\node[font=\bfseries\fontsize{15.5}{17}\selectfont] at (rel axis cs:0.199,0.721) {k = (1/2 1/2 1/2)};
\end{axis}
\end{tikzpicture}
\end{document}
